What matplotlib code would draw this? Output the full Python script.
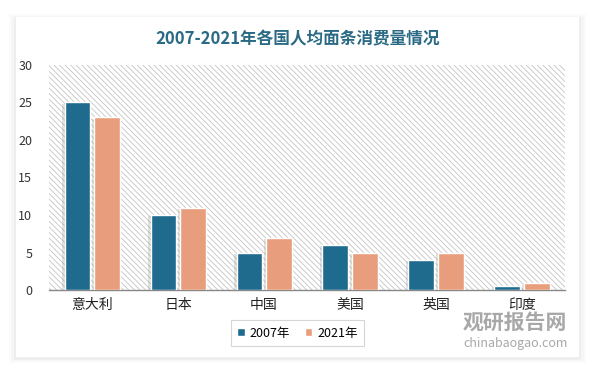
import matplotlib.pyplot as plt
import matplotlib.patches as mpatches
import matplotlib.patheffects as pe
import numpy as np

plt.rcParams['font.family'] = ['Noto Sans CJK SC', 'DejaVu Sans']
plt.rcParams['hatch.color'] = '#c4c4c4'
plt.rcParams['hatch.linewidth'] = 0.6

categories = ['意大利', '日本', '中国', '美国', '英国', '印度']
values_2007 = [25, 10, 5, 6, 4, 0.5]
values_2021 = [23, 11, 7, 5, 5, 0.9]
series_labels = ['2007年', '2021年']
yticks = [0, 5, 10, 15, 20, 25, 30]

c_2007 = '#1f6b8e'
c_2021 = '#e89d7c'

fig = plt.figure(figsize=(5.95, 3.67), dpi=100)
fig.patch.set_facecolor('white')

# card with soft shadow
for i, a in enumerate([0.015, 0.02, 0.03]):
    off = (3 - i) * 0.004
    fig.patches.append(mpatches.Rectangle((0.027 - off, 0.027 - off - 0.004), 0.946 + 2 * off, 0.926 + 2 * off,
                                          transform=fig.transFigure, facecolor='black', alpha=a,
                                          edgecolor='none', zorder=-3))
fig.patches.append(mpatches.Rectangle((0.027, 0.027), 0.946, 0.926, transform=fig.transFigure,
                                      facecolor='white', edgecolor='none', zorder=-2))

ax = fig.add_axes([0.0824, 0.2098, 0.8672, 0.6131])
ax.set_zorder(3)
ax.set_facecolor('none')
ax.add_patch(mpatches.Rectangle((0, 0), 1, 1, transform=ax.transAxes, facecolor='white',
                                hatch='\\\\\\\\\\\\', edgecolor='#c4c4c4', linewidth=0, zorder=0))

x = np.arange(len(categories))
width = 0.3
gap = 0.04
shadow = [pe.SimplePatchShadow(offset=(-1.5, -1), shadow_rgbFace='#888888', alpha=0.25), pe.Normal()]
b1 = ax.bar(x - width / 2 - gap / 2, values_2007, width, color=c_2007, edgecolor='white',
            linewidth=1, label=series_labels[0], zorder=3)
b2 = ax.bar(x + width / 2 + gap / 2, values_2021, width, color=c_2021, edgecolor='white',
            linewidth=1, label=series_labels[1], zorder=3)
for r in list(b1) + list(b2):
    r.set_path_effects(shadow)

ax.set_xlim(-0.5, len(categories) - 0.5)
ax.set_ylim(0, 30)
ax.set_yticks(yticks)
ax.set_xticks(x)
ax.set_xticklabels(categories, fontsize=10)
ax.tick_params(axis='y', length=0, labelsize=9, colors='#333333', pad=12)
ax.tick_params(axis='x', length=0, labelsize=10, colors='#222222', pad=6)
for s in ['top', 'right', 'left']:
    ax.spines[s].set_visible(False)
ax.spines['bottom'].set_color('#888888')
ax.spines['bottom'].set_linewidth(1)

fig.text(0.5, 0.893, '2007-2021年各国人均面条消费量情况', ha='center', va='center',
         fontsize=12, fontweight='bold', color='#2a6a85')

leg = fig.legend(handles=[b1, b2], labels=series_labels, loc='center', bbox_to_anchor=(0.5, 0.092),
                 ncol=2, fontsize=9, frameon=True, handlelength=0.6, handleheight=0.6,
                 handletextpad=0.4, columnspacing=1.2, fancybox=False, borderpad=0.5)
leg.get_frame().set_edgecolor('#cccccc')
leg.get_frame().set_linewidth(0.8)
for h in leg.legend_handles:
    h.set_path_effects([])

# watermark
fig.text(0.866, 0.123, '观研报告网', ha='center', va='center', fontsize=15, fontweight='bold',
         color='#999999', alpha=0.85, zorder=5)
fig.text(0.866, 0.065, 'chinabaogao.com', ha='center', va='center', fontsize=9,
         color='#999999', alpha=0.85, zorder=5)

plt.savefig('out.png', dpi=100)
